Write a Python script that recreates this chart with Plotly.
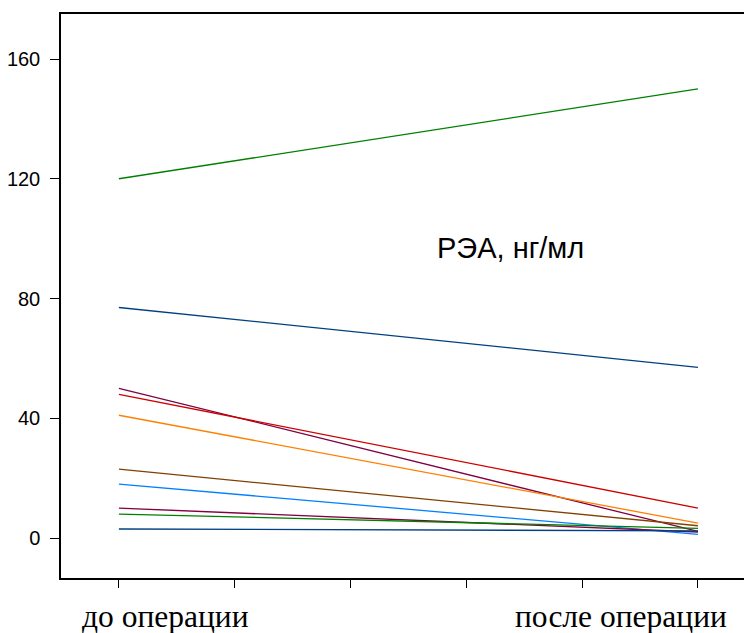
import plotly.graph_objects as go

categories = [0, 1]  # до операции, после операции
category_labels = ["до операции", "после операции"]

before = [120, 77, 50, 48, 41, 23, 18, 10, 8, 3]
after = [150, 57, 2.2, 10, 5.0, 4.1, 1.2, 2.0, 3.2, 2.4]
colors = ["#008000", "#004080", "#800040", "#cc0000", "#ff8000",
          "#804000", "#0080ff", "#800040", "#008000", "#004080"]

y_ticks = [0, 40, 80, 120, 160]
x_ticks = [0, 0.2, 0.4, 0.6, 0.8, 1.0]

fig = go.Figure()
for b, a, c in zip(before, after, colors):
    fig.add_trace(go.Scatter(x=categories, y=[b, a], mode="lines",
                             line=dict(color=c, width=1.3),
                             showlegend=False, hoverinfo="skip"))

fig.add_annotation(x=0.677, y=96.8, xref="x", yref="y", text="РЭА, нг/мл",
                   showarrow=False, font=dict(family="Liberation Sans", size=29, color="black"))
label_x = [0.081, 0.867]
for lx, lab in zip(label_x, category_labels):
    fig.add_annotation(x=lx, y=-0.069, xref="x", yref="paper", yanchor="middle",
                       text=lab, showarrow=False,
                       font=dict(family="Liberation Serif", size=31.5, color="black"))

fig.update_layout(
    width=752, height=633,
    margin=dict(l=53, r=8, t=6, b=63),
    plot_bgcolor="white", paper_bgcolor="white",
    xaxis=dict(range=[-0.1, 1.0933], tickvals=x_ticks, showticklabels=False,
               ticks="outside", ticklen=8, tickcolor="black", tickwidth=1,
               showline=True, linecolor="black", linewidth=1.5, mirror=True,
               showgrid=False, zeroline=False, automargin=False),
    yaxis=dict(range=[-13.36, 175.03], tickvals=y_ticks,
               ticks="outside", ticklen=9, tickcolor="black", tickwidth=1,
               showline=True, linecolor="black", linewidth=1.5,
               showgrid=False, zeroline=False, ticklabelstandoff=6, automargin=False,
               tickfont=dict(family="Liberation Sans", size=20, color="black")),
)

fig.write_html("out.html")
